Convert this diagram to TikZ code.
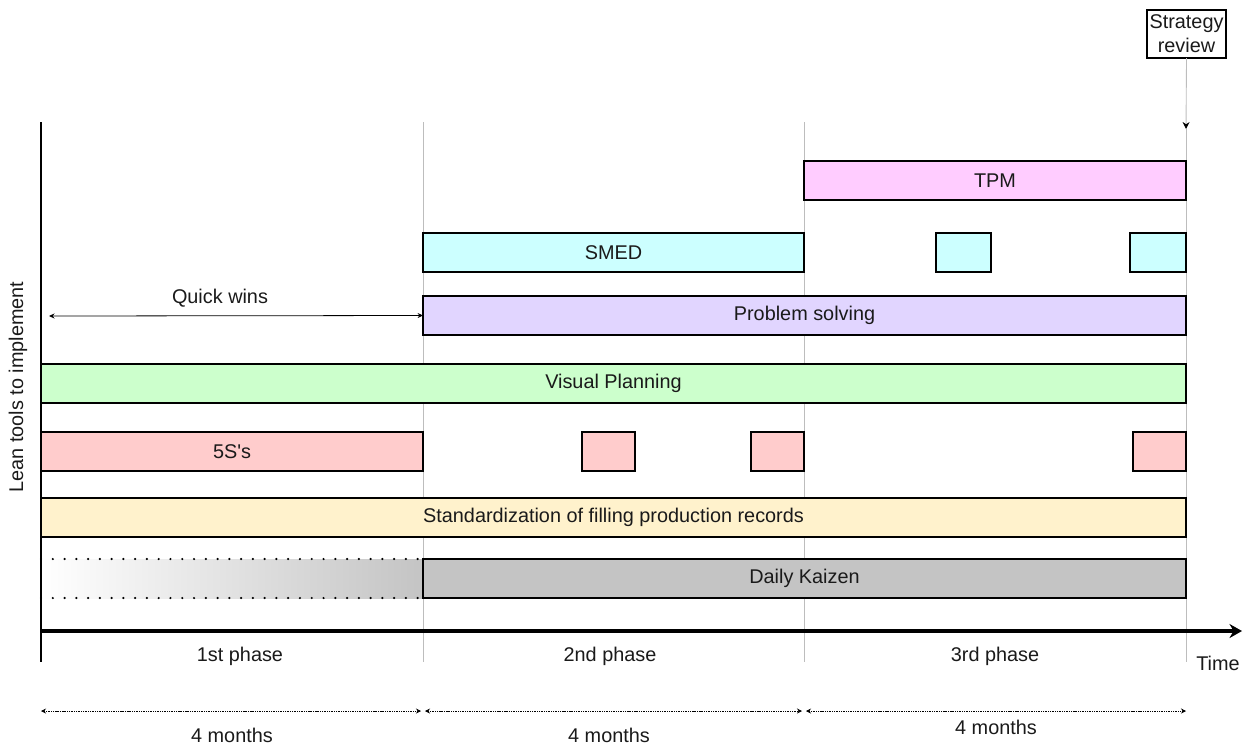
\documentclass[tikz,border=0pt]{standalone}
\usepackage{fontspec}
\setmainfont{Liberation Sans}
\usetikzlibrary{arrows.meta}
\definecolor{ctpm}{HTML}{FFCCFF}
\definecolor{csmed}{HTML}{CCFFFF}
\definecolor{cps}{HTML}{E1D5FF}
\definecolor{cvp}{HTML}{CCFFCC}
\definecolor{cfive}{HTML}{FFCCCC}
\definecolor{cstd}{HTML}{FFF2CC}
\definecolor{ckz}{HTML}{C4C4C4}
\definecolor{cguide}{HTML}{BDBDBD}
\definecolor{ctext}{HTML}{1A1A1A}
\newcommand\tlbox[7]{\node[bar,fill=#6,minimum width={(#3-#1)*0.2mm},minimum height={(#4-#2)*0.2mm}] (#5) at ({(#1+#3)/2},{(#2+#4)/2}) {#7};}
\begin{document}
\begin{tikzpicture}[x=0.02cm,y=-0.02cm,
  every node/.style={font=\fontsize{11.3}{13.6}\selectfont,text=ctext},
  bar/.style={draw=black,line width=1.1pt,inner sep=0pt,outer sep=0pt},
  guide/.style={draw=cguide,line width=0.5pt},
  smallarrow/.style={{Stealth[length=1.1mm,width=1mm]}-{Stealth[length=1.1mm,width=1mm]},line width=0.45pt},
  spanarrow/.style={{Stealth[length=1mm,width=1mm]}-{Stealth[length=1mm,width=1mm]},line width=0.35pt,dash pattern=on 0.6pt off 0.4pt},
  dotline/.style={line width=1.4pt,line cap=round,dash pattern=on 0pt off 6.7pt}]
\useasboundingbox (0,0) rectangle (1250,745);
% guides
\draw[guide] (423,122) -- (423,662);
\draw[guide] (804,122) -- (804,662);
\coordinate (srtip) at (1186,129);
\draw[guide] (srtip) -- (1186,662);
% strategy review
\node[bar,draw=black,minimum width={79*0.2mm},minimum height={48*0.2mm},align=center] (sr) at (1186.5,34) {Strategy\\review};
\draw[cguide,line width=0.5pt,-{Stealth[length=1.4mm,width=1.4mm,black]}] (sr.south) -- (srtip);
% gradient part of kaizen
\shade[left color=white,right color=ckz] (41,559) rectangle (423,598);
\coordinate (kzs1) at (41,559); \coordinate (kze1) at (423,559);
\coordinate (kzs2) at (41,598); \coordinate (kze2) at (423,598);
\draw[dotline] (kzs1) -- (kze1);
\draw[dotline] (kzs2) -- (kze2);
% bars
\tlbox{804}{161}{1186}{200}{tpm}{ctpm}{TPM}
\tlbox{423}{233}{804}{272}{smed}{csmed}{SMED}
\tlbox{936}{233}{991}{272}{smedb}{csmed}{}
\tlbox{1130}{233}{1186}{272}{smedc}{csmed}{}
\tlbox{423}{296}{1186}{335}{ps}{cps}{Problem solving}
\tlbox{41}{364}{1186}{403}{vp}{cvp}{Visual Planning}
\tlbox{41}{432}{423}{471}{five}{cfive}{5S\textquotesingle s}
\tlbox{582}{432}{635}{471}{fiveb}{cfive}{}
\tlbox{751}{432}{804}{471}{fivec}{cfive}{}
\tlbox{1133}{432}{1186}{471}{fived}{cfive}{}
\tlbox{41}{498}{1186}{537}{std}{cstd}{Standardization of filling production records}
\tlbox{423}{559}{1186}{598}{kz}{ckz}{Daily Kaizen}
% quick wins
\coordinate (qw) at (49,316);
\draw[smallarrow] (qw) -- (ps.west);
\node (qwl) at (220,298) {Quick wins};
% axes
\coordinate (ytop) at (41,122); \coordinate (ybot) at (41,662);
\draw[line width=1.3pt] (ytop) -- (ybot);
\coordinate (tstart) at (41,631); \coordinate (tend) at (1242,631);
\draw[line width=2.3pt,-{Stealth[length=2.5mm,width=2.8mm]}] (tstart) -- (tend);
\node[rotate=90] (ylab) at (18,387) {Lean tools to implement};
\node (time) at (1218,663) {Time};
\node (ph1) at (240,656) {1st phase};
\node (ph2) at (610,656) {2nd phase};
\node (ph3) at (995,656) {3rd phase};
% months
\coordinate (m0) at (41,711); \coordinate (m1a) at (421,711); \coordinate (m1b) at (425,711);
\coordinate (m2a) at (802,711); \coordinate (m2b) at (806,711); \coordinate (m3) at (1186,711);
\draw[spanarrow] (m0) -- (m1a);
\draw[spanarrow] (m1b) -- (m2a);
\draw[spanarrow] (m2b) -- (m3);
\node (mo1) at (232,735) {4 months};
\node (mo2) at (609,735) {4 months};
\node (mo3) at (996,727) {4 months};
\end{tikzpicture}
\end{document}
